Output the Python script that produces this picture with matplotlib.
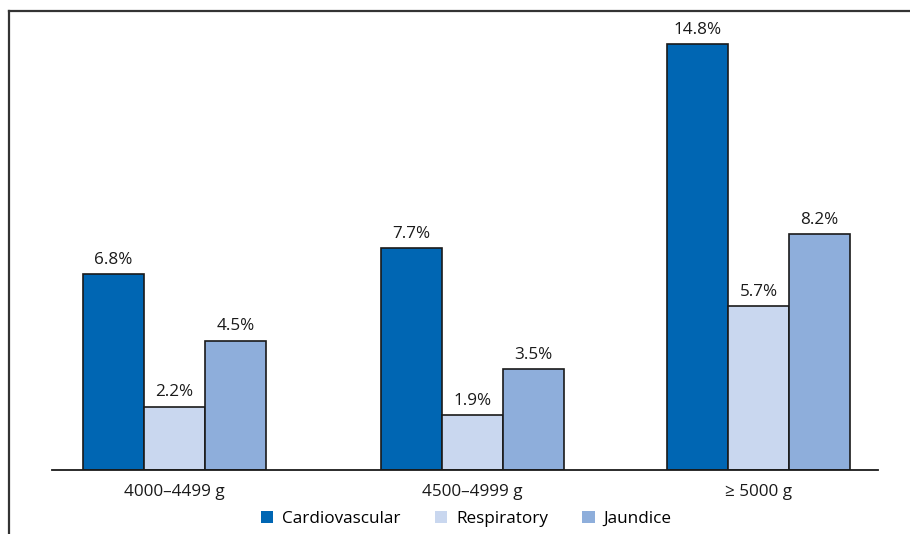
import matplotlib
matplotlib.use("Agg")
import matplotlib.pyplot as plt
from matplotlib.lines import Line2D
from matplotlib.patches import Patch

categories = ["4000\u20134499 g", "4500\u20134999 g", "\u2265 5000 g"]
series_names = ["Cardiovascular", "Respiratory", "Jaundice"]
cardiovascular = [6.8, 7.7, 14.8]
respiratory = [2.2, 1.9, 5.7]
jaundice = [4.5, 3.5, 8.2]
values = [cardiovascular, respiratory, jaundice]
colors = ["#0066b3", "#c9d7ef", "#8eaedb"]

plt.rcParams['font.family'] = ['Open Sans', 'DejaVu Sans']

W, H = 910, 534
fig = plt.figure(figsize=(W / 100, H / 100), dpi=100)
ax = fig.add_axes([52 / W, (H - 470) / H, (878 - 52) / W, (470 - 11) / H])

xpos = [0.0, 1.0, 1.9597]
bw = 0.2047
for i, (vals, col) in enumerate(zip(values, colors)):
    xs = [x + (i - 1) * bw for x in xpos]
    bars = ax.bar(xs, vals, width=bw, color=col, edgecolor="#1a1a1a", linewidth=1.2,
                  label=series_names[i])
    for b, v in zip(bars, vals):
        ax.annotate(f"{v:.1f}%", (b.get_x() + b.get_width() / 2, b.get_height()),
                    xytext=(0, 4.5), textcoords="offset points", ha="center", va="bottom",
                    fontsize=12.3, color="#1a1a1a")

ax.set_xlim(-0.411, 2.3607)
ax.set_ylim(0, 15.95)
ax.set_xticks(xpos)
ax.set_xticklabels(categories, fontsize=12.3, color="#1a1a1a")
ax.tick_params(axis="x", length=0, pad=10)
ax.set_yticks([])
for s in ["top", "right", "left"]:
    ax.spines[s].set_visible(False)
ax.spines["bottom"].set_linewidth(1.3)
ax.spines["bottom"].set_color("#1a1a1a")

handles = [Patch(facecolor=c, edgecolor="none") for c in colors]
fig.legend(handles, series_names, loc="center", bbox_to_anchor=(466 / W, (H - 519) / H),
           ncol=3, frameon=False, fontsize=12.3, handlelength=0.75, handleheight=0.75,
           handletextpad=0.5, columnspacing=2.0)

# frame lines
fig.add_artist(Line2D([9 / W, 1.0], [(H - 11) / H] * 2, color="#333333", linewidth=1.6,
                      transform=fig.transFigure))
fig.add_artist(Line2D([9 / W] * 2, [0, (H - 11) / H], color="#333333", linewidth=1.6,
                      transform=fig.transFigure))

fig.savefig("out.png", dpi=100)
